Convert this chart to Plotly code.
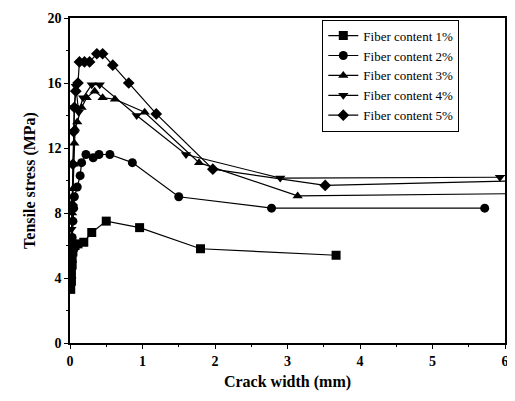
import plotly.graph_objects as go

x1 = [0.01, 0.02, 0.02, 0.03, 0.03, 0.04, 0.05, 0.07, 0.11, 0.19, 0.30, 0.50, 0.96, 1.80, 3.67]
y1 = [3.3, 3.8, 4.3, 4.8, 5.2, 5.6, 5.9, 6.0, 6.1, 6.2, 6.8, 7.5, 7.1, 5.8, 5.4]

x2 = [0.01, 0.02, 0.03, 0.04, 0.05, 0.06, 0.10, 0.14, 0.16, 0.22, 0.32, 0.40, 0.55, 0.86, 1.50, 2.78, 5.72]
y2 = [4.5, 5.5, 6.5, 7.5, 8.3, 9.0, 9.6, 10.3, 11.1, 11.6, 11.4, 11.6, 11.6, 11.1, 9.0, 8.3, 8.3]

x3 = [0.01, 0.02, 0.03, 0.04, 0.05, 0.06, 0.07, 0.10, 0.16, 0.23, 0.34, 0.45, 0.62, 1.03, 1.78, 3.14, 6.30]
y3 = [5.0, 6.5, 8.0, 9.5, 11.0, 12.3, 13.2, 13.6, 14.5, 15.1, 15.5, 15.1, 15.0, 14.2, 11.1, 9.05, 9.2]

x4 = [0.01, 0.02, 0.03, 0.04, 0.05, 0.06, 0.08, 0.12, 0.18, 0.30, 0.41, 0.92, 1.60, 2.90, 5.93]
y4 = [5.0, 7.0, 9.0, 11.0, 13.0, 14.5, 15.8, 14.2, 15.1, 15.9, 15.9, 14.0, 11.6, 10.15, 10.2]

x5 = [0.01, 0.02, 0.03, 0.04, 0.05, 0.06, 0.08, 0.11, 0.13, 0.20, 0.27, 0.37, 0.45, 0.59, 0.81, 1.19, 1.97, 3.52, 6.30]
y5 = [4.0, 6.0, 8.5, 11.0, 13.0, 14.5, 15.5, 16.0, 17.3, 17.3, 17.3, 17.8, 17.8, 17.1, 16.0, 14.1, 10.7, 9.7, 10.0]

x_ticks = [0, 1, 2, 3, 4, 5, 6]
y_ticks = [0, 4, 8, 12, 16, 20]

names = ["Fiber content 1%", "Fiber content 2%", "Fiber content 3%",
         "Fiber content 4%", "Fiber content 5%"]
symbols = ["square", "circle", "triangle-up", "triangle-down", "diamond"]
xs = [x1, x2, x3, x4, x5]
ys = [y1, y2, y3, y4, y5]

font = "Liberation Serif"
fig = go.Figure()
for x, y, n, s in zip(xs, ys, names, symbols):
    fig.add_trace(go.Scatter(
        x=x, y=y, name=n, mode="lines+markers",
        line=dict(color="black", width=1.2),
        marker=dict(symbol=s, size=9, color="black"),
    ))

fig.update_layout(
    width=507, height=385,
    margin=dict(l=62, r=10, t=10, b=50, autoexpand=False),
    paper_bgcolor="white", plot_bgcolor="white",
    font=dict(family=font, color="black"),
    showlegend=True,
    legend=dict(
        x=0.58, y=0.995, xanchor="left", yanchor="top",
        bgcolor="white", bordercolor="black", borderwidth=1,
        font=dict(family=font, size=13, color="black"),
        tracegroupgap=0, itemwidth=30,
    ),
)
fig.update_xaxes(
    range=[0, 6], tickmode="array", tickvals=x_ticks,
    ticktext=[f"<b>{v}</b>" for v in x_ticks],
    showline=True, linecolor="black", linewidth=1.5, mirror=True,
    ticks="outside", ticklen=4, tickcolor="black",
    minor=dict(ticks="outside", dtick=0.5, ticklen=2, tickcolor="black"),
    showgrid=False, zeroline=False, ticklabeloverflow="allow",
    tickfont=dict(family=font, size=14, color="black"),
    title=dict(text="<b>Crack width (mm)</b>", font=dict(family=font, size=16, color="black"), standoff=8),
)
fig.update_yaxes(
    range=[0, 20], tickmode="array", tickvals=y_ticks,
    ticktext=[f"<b>{v}</b>" for v in y_ticks],
    showline=True, linecolor="black", linewidth=1.5, mirror=True,
    ticks="outside", ticklen=4, tickcolor="black",
    minor=dict(ticks="outside", dtick=2, ticklen=2, tickcolor="black"),
    showgrid=False, zeroline=False,
    tickfont=dict(family=font, size=14, color="black"),
    title=dict(text="<b>Tensile stress (MPa)</b>", font=dict(family=font, size=16, color="black"), standoff=8),
)
fig.write_html("out.html")
